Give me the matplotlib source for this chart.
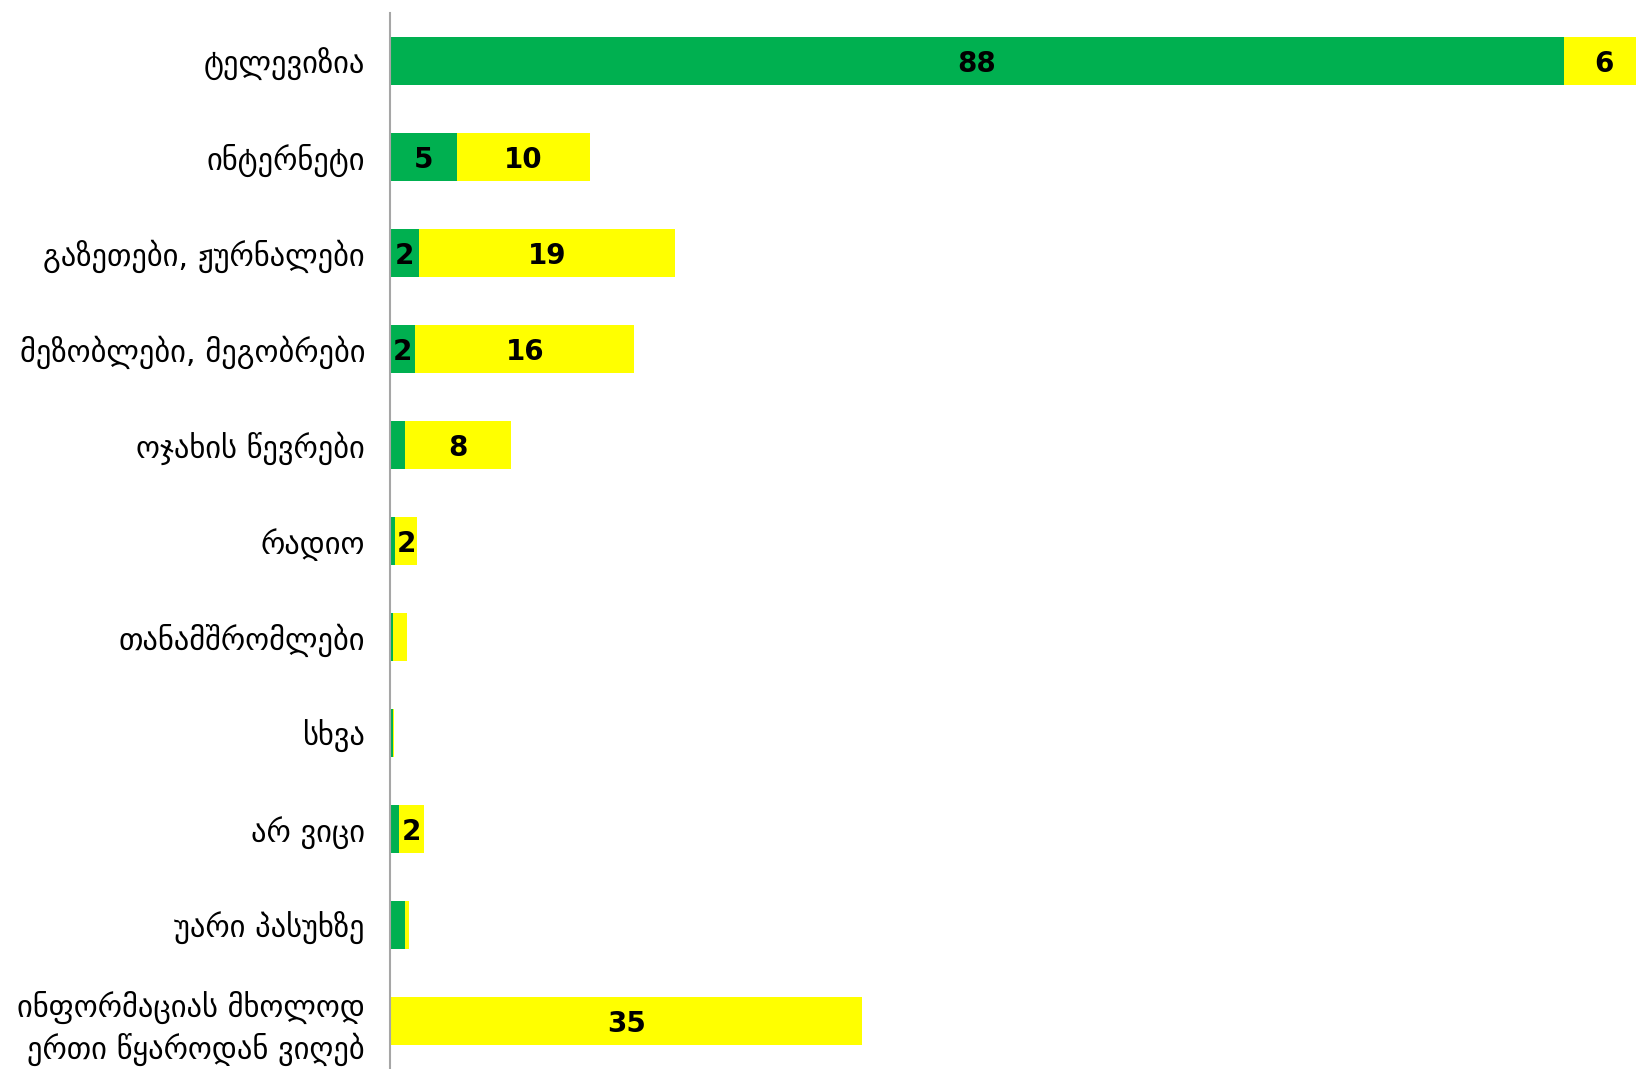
import matplotlib
matplotlib.use("Agg")
import matplotlib.pyplot as plt
import numpy as np

categories = [
    "ტელევიზია",
    "ინტერნეტი",
    "გაზეთები, ჟურნალები",
    "მეზობლები, მეგობრები",
    "ოჯახის წევრები",
    "რადიო",
    "თანამშრომლები",
    "სხვა",
    "არ ვიცი",
    "უარი პასუხზე",
    "ინფორმაციას მხოლოდ\nერთი წყაროდან ვიღებ",
]
green_vals = [88, 5, 2.2, 1.9, 1.1, 0.4, 0.25, 0.2, 0.7, 1.1, 0]
yellow_vals = [6, 10, 19.2, 16.4, 8, 1.6, 1.05, 0.1, 1.85, 0.3, 35.4]

GREEN = "#00B050"
YELLOW = "#FFFF00"

fig = plt.figure(figsize=(16.36, 10.69), dpi=100)
ax = fig.add_axes([390 / 1636, 0, 1 - 390 / 1636, 1 - 13 / 1069])

y = np.arange(len(categories))
g = np.array(green_vals)
yl = np.array(yellow_vals)
ax.barh(y, g, height=0.5, color=GREEN, edgecolor="none")
ax.barh(y, yl, left=g, height=0.5, color=YELLOW, edgecolor="none")

for i in range(len(categories)):
    if g[i] >= 1.5:
        ax.text(g[i] / 2, y[i], f"{round(g[i]):d}", ha="center", va="center_baseline",
                fontsize=20, fontweight="bold", color="black")
    if yl[i] >= 1.5:
        ax.text(g[i] + yl[i] / 2, y[i], f"{round(yl[i]):d}", ha="center", va="center_baseline",
                fontsize=20, fontweight="bold", color="black")

ax.set_xlim(0, 93.4)
ax.set_ylim(len(categories) - 0.5, -0.5)
ax.set_yticks(y)
ax.set_yticklabels(categories, fontsize=22, ha="right", linespacing=1.3)
ax.tick_params(axis="y", length=0, pad=18)
ax.set_xticks([])
for s in ["top", "right", "bottom"]:
    ax.spines[s].set_visible(False)
ax.spines["left"].set_color("#A6A6A6")
ax.spines["left"].set_linewidth(1.5)

fig.savefig("out.png", dpi=100)
